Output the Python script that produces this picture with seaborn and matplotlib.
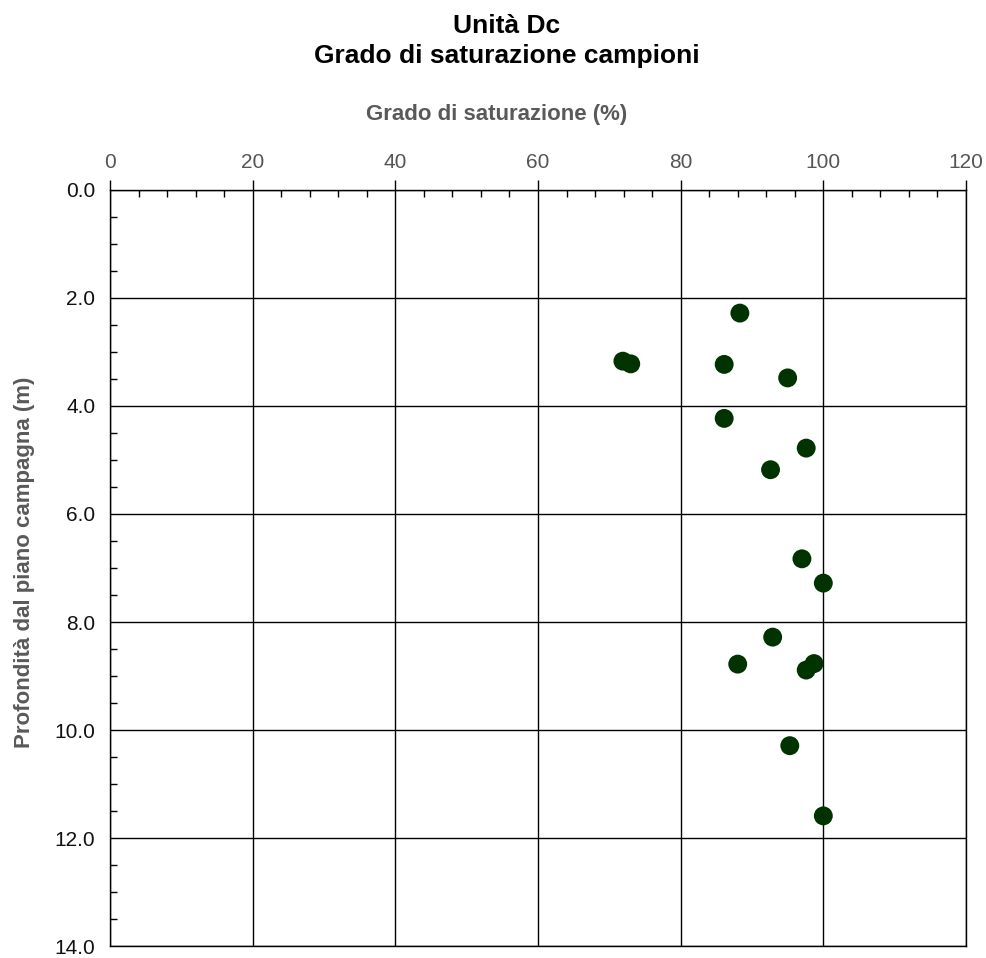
import matplotlib
matplotlib.use("Agg")
import matplotlib.pyplot as plt
import seaborn as sns
import pandas as pd
from matplotlib.ticker import MultipleLocator, FormatStrFormatter

sns.set_style("white")
plt.rcParams['font.family'] = ['Liberation Sans', 'DejaVu Sans']

# Dati
saturazione = [88.3, 71.9, 73.0, 86.1, 95.0, 86.1, 97.6, 92.6,
               97.0, 100.0, 92.9, 88.0, 98.7, 97.6, 95.3, 100.0]
profondita = [2.28, 3.17, 3.22, 3.23, 3.48, 4.23, 4.78, 5.18,
              6.83, 7.28, 8.28, 8.78, 8.77, 8.89, 10.29, 11.59]

df = pd.DataFrame({"sat": saturazione, "prof": profondita})

fig = plt.figure(figsize=(9.87, 9.58), dpi=100)
ax = fig.add_axes([0.1115, 0.0125, 0.8672, 0.7892])

sns.scatterplot(data=df, x="sat", y="prof", ax=ax, color="#003300",
                s=185, edgecolor="none", zorder=3)

ax.set_xlim(0, 120)
ax.set_ylim(14, 0)
ax.xaxis.set_major_locator(MultipleLocator(20))
ax.xaxis.set_minor_locator(MultipleLocator(4))
ax.yaxis.set_major_locator(MultipleLocator(2))
ax.yaxis.set_minor_locator(MultipleLocator(0.5))
ax.yaxis.set_major_formatter(FormatStrFormatter("%.1f"))

ax.xaxis.tick_top()
ax.xaxis.set_label_position("top")
ax.tick_params(axis="both", which="major", direction="out", length=7, width=1,
               color="black", labelsize=15, labelcolor="#111111")
ax.tick_params(axis="x", which="major", labelcolor="#555555", pad=6)
ax.tick_params(axis="both", which="minor", direction="in", length=5, width=1,
               color="black", top=True, left=True)
ax.tick_params(axis="x", which="minor", top=True, bottom=False)

ax.grid(True, which="major", color="black", linewidth=1)
for sp in ax.spines.values():
    sp.set_color("black")
    sp.set_linewidth(1)

ax.set_xlabel("Grado di saturazione (%)", fontsize=16, fontweight="bold",
              color="#595959")
ax.set_ylabel("Profondità dal piano campagna (m)", fontsize=16,
              fontweight="bold", color="#595959")
ax.xaxis.set_label_coords(0.452, 1.092)
ax.yaxis.set_label_coords(-0.088, 0.508)

fig.text(0.513, 0.957, "Unità Dc\nGrado di saturazione campioni", ha="center",
         va="center", fontsize=19, fontweight="bold", color="black",
         linespacing=1.3)

fig.savefig("out.png", dpi=100)
